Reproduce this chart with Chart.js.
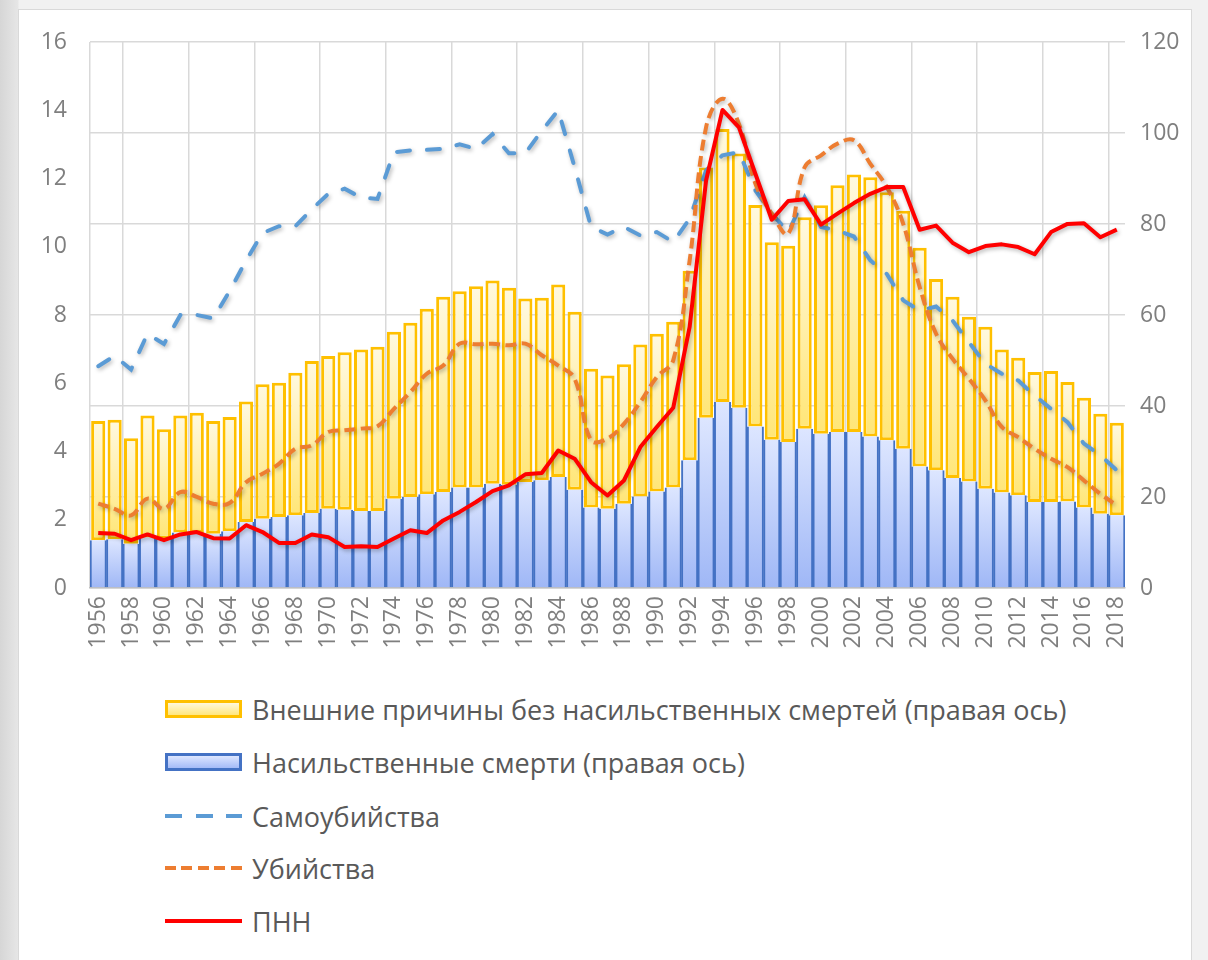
<!DOCTYPE html>
<html>
<head>
<meta charset="utf-8">
<script src="https://cdn.jsdelivr.net/npm/chart.js@4"></script>
<style>
  html, body { margin: 0; padding: 0; }
  body { width: 1208px; height: 960px; overflow: hidden; position: relative;
         background: linear-gradient(to right, #d6d6d6 0, #e6e6e6 18px, #f1f1f1 19px, #f1f1f1 100%); font-family: "Open Sans", sans-serif; }
  #panel { position: absolute; left: 18px; top: 9px; width: 1172px; height: 960px; background: #fff; border: 1px solid #d9d9d9; }
  #chart { position: absolute; left: 0; top: 0; }
  .leg { position: absolute; left: 165px; height: 30px; display: flex; align-items: center; }
  .leg .sw { width: 77px; height: 18px; box-sizing: border-box; }
  .leg span { margin-left: 10px; font-size: 27px; color: #595959; white-space: nowrap; }
</style>
</head>
<body>
<div id="panel"></div>
<canvas id="chart" width="1208" height="680"></canvas>

<div class="leg" style="top:694px"><div class="sw" style="border:3px solid #ffc000;background:linear-gradient(#fff8dc,#ffe77e)"></div><span>Внешние причины без насильственных смертей (правая ось)</span></div>
<div class="leg" style="top:747px"><div class="sw" style="border:3px solid #4472c4;background:linear-gradient(#dde6ff,#a4bbf7)"></div><span>Насильственные смерти (правая ось)</span></div>
<div class="leg" style="top:801px"><div class="sw" style="height:4px;background:repeating-linear-gradient(to right,#5b9bd5 0 17px,transparent 17px 30.5px)"></div><span>Самоубийства</span></div>
<div class="leg" style="top:853px"><div class="sw" style="height:4px;background:repeating-linear-gradient(to right,#ed7d31 0 11px,transparent 11px 16.5px)"></div><span>Убийства</span></div>
<div class="leg" style="top:906px"><div class="sw" style="height:4px;background:#ff0000"></div><span>ПНН</span></div>

<script>
// годы 1956-2018
const years = [];
for (let y = 1956; y <= 2018; y++) years.push(String(y));

// столбцы, правая ось
const violent = [10.5, 10.7, 9.7, 11.1, 10.8, 12.2, 12.1, 11.9, 12.5, 14.5,
  15.2, 15.6, 16.0, 16.5, 17.4, 17.2, 16.9, 16.9, 19.6, 20.0,
  20.6, 21.1, 22.1, 22.1, 22.9, 22.7, 23.3, 23.7, 24.4, 21.6,
  17.7, 17.4, 18.5, 20.1, 21.2, 22.1, 28.1, 37.4, 40.9, 39.6,
  35.5, 32.6, 32.1, 35.0, 33.9, 34.3, 34.3, 33.3, 32.5, 30.6,
  26.7, 25.9, 24.2, 23.4, 21.8, 21.0, 20.4, 18.9, 18.9, 19.0,
  17.7, 16.3, 16.0];
const external = [26.2, 26.3, 23.2, 26.8, 24.1, 25.7, 26.4, 24.8, 25.1, 26.5,
  29.6, 29.5, 31.3, 33.4, 33.6, 34.6, 35.5, 36.1, 36.7, 38.3,
  40.8, 42.9, 43.1, 44.2, 44.7, 43.3, 40.3, 40.1, 42.3, 39.1,
  30.5, 29.3, 30.7, 33.4, 34.7, 36.4, 41.6, 55.0, 60.0, 55.9,
  48.7, 43.4, 43.1, 46.5, 50.2, 54.2, 56.6, 57.0, 54.5, 52.3,
  48.1, 42.0, 39.8, 36.2, 35.6, 31.4, 30.2, 28.6, 28.8, 26.3,
  24.1, 22.0, 20.3];

// линии, левая ось
const suicides = [6.5, 6.8, 6.4, 7.45, 7.15, 8.0, 8.0, 7.9, 8.7, 9.6,
  10.4, 10.6, 10.6, 11.1, 11.55, 11.7, 11.44, 11.4, 12.77, 12.82,
  12.84, 12.87, 13.0, 12.87, 13.3, 12.74, 12.74, 13.4, 14.0, 12.33,
  10.58, 10.36, 10.58, 10.33, 10.43, 10.14, 10.82, 12.24, 12.68, 12.77,
  11.65, 10.97, 10.43, 11.45, 10.58, 10.48, 10.3, 9.6, 9.2, 8.43,
  8.13, 8.25, 7.84, 7.2, 6.57, 6.28, 6.08, 5.64, 5.25, 4.86,
  4.23, 3.89, 3.45];
const homicides = [2.47, 2.32, 2.13, 2.62, 2.32, 2.81, 2.67, 2.47, 2.49, 3.1,
  3.35, 3.64, 4.08, 4.18, 4.57, 4.62, 4.67, 4.74, 5.25, 5.74,
  6.28, 6.52, 7.16, 7.14, 7.16, 7.11, 7.16, 6.82, 6.52, 6.13,
  4.33, 4.38, 4.81, 5.45, 6.18, 6.67, 9.6, 13.5, 14.34, 13.6,
  11.85, 10.97, 10.38, 12.33, 12.68, 13.02, 13.12, 12.43, 11.75, 10.67,
  8.82, 7.45, 6.72, 6.13, 5.5, 4.72, 4.42, 4.08, 3.79, 3.54,
  3.15, 2.76, 2.42];
const pnn = [1.61, 1.59, 1.40, 1.57, 1.40, 1.57, 1.64, 1.46, 1.45, 1.84,
  1.64, 1.32, 1.32, 1.57, 1.49, 1.20, 1.22, 1.20, 1.45, 1.69,
  1.61, 1.98, 2.23, 2.52, 2.84, 3.01, 3.33, 3.37, 4.03, 3.79,
  3.1, 2.71, 3.15, 4.13, 4.72, 5.28, 7.65, 11.94, 14.01, 13.5,
  12.14, 10.79, 11.34, 11.39, 10.65, 10.97, 11.28, 11.55, 11.75, 11.75,
  10.5, 10.62, 10.12, 9.84, 10.02, 10.07, 9.99, 9.78, 10.43, 10.67,
  10.69, 10.28, 10.5];

const leftTicks = [0, 2, 4, 6, 8, 10, 12, 14, 16];
const rightTicks = [0, 20, 40, 60, 80, 100, 120];

const tickFont = { family: '"Open Sans", sans-serif', size: 23 };
const tickColor = '#7f7f7f';

// градиент на каждый столбец: светлее сверху
function barGrad(c, light, dark, lowOf, highOf) {
  const ch = c.chart;
  if (!ch.chartArea || c.dataIndex === undefined) return dark;
  const sc = ch.scales.yR;
  const i = c.dataIndex;
  const top = sc.getPixelForValue(highOf(i));
  const bot = sc.getPixelForValue(lowOf(i));
  if (!isFinite(top) || !isFinite(bot) || top === bot) return dark;
  const g = ch.ctx.createLinearGradient(0, top, 0, bot);
  g.addColorStop(0, light);
  g.addColorStop(1, dark);
  return g;
}

// тень у линий, как в Excel
const lineShadow = {
  id: 'lineShadow',
  beforeDatasetDraw(chart, args) {
    if (args.meta.type !== 'line') return;
    const ctx = chart.ctx;
    ctx.save();
    ctx.shadowColor = 'rgba(0,0,0,0.28)';
    ctx.shadowBlur = 4;
    ctx.shadowOffsetX = 1.5;
    ctx.shadowOffsetY = 2;
  },
  afterDatasetDraw(chart, args) {
    if (args.meta.type !== 'line') return;
    chart.ctx.restore();
  }
};

new Chart(document.getElementById('chart'), {
  type: 'bar',
  data: {
    labels: years,
    datasets: [
      {
        label: 'Насильственные смерти (правая ось)',
        data: violent,
        yAxisID: 'yR',
        order: 4,
        barPercentage: 1,
        categoryPercentage: 1,
        backgroundColor: c => barGrad(c, '#dde6ff', '#9fb7f6', () => 0, i => violent[i]),
        borderColor: '#4472c4',
        borderWidth: { left: 2, right: 2, top: 0, bottom: 0 },
        borderSkipped: false
      },
      {
        label: 'Внешние причины без насильственных смертей (правая ось)',
        data: external,
        yAxisID: 'yR',
        order: 4,
        barPercentage: 0.86,
        categoryPercentage: 1,
        backgroundColor: c => barGrad(c, '#fff9e0', '#ffe677', i => violent[i], i => violent[i] + external[i]),
        borderColor: '#ffc000',
        borderWidth: 3,
        borderSkipped: false
      },
      {
        type: 'line',
        label: 'Самоубийства',
        data: suicides,
        yAxisID: 'yL',
        order: 3,
        borderColor: '#5b9bd5',
        borderWidth: 4,
        borderDash: [13, 17],
        borderCapStyle: 'round',
        pointRadius: 0,
        tension: 0
      },
      {
        type: 'line',
        label: 'Убийства',
        data: homicides,
        yAxisID: 'yL',
        order: 2,
        borderColor: '#ed7d31',
        borderWidth: 4,
        borderDash: [11, 5.5],
        pointRadius: 0,
        tension: 0.4
      },
      {
        type: 'line',
        label: 'ПНН',
        data: pnn,
        yAxisID: 'yL',
        order: 1,
        borderColor: '#ff0000',
        borderWidth: 4,
        borderJoinStyle: 'round',
        pointRadius: 0,
        tension: 0
      }
    ]
  },
  options: {
    responsive: false,
    animation: false,
    layout: { padding: { top: 42, left: 0, right: 0, bottom: 0 } },
    plugins: { legend: { display: false }, tooltip: { enabled: false } },
    scales: {
      x: {
        stacked: true,
        offset: true,
        grid: {
          offset: true,
          drawTicks: false,
          lineWidth: 1.5,
          color: c => (c.index === 0 || c.index % 4 === 2) ? '#d9d9d9' : 'rgba(0,0,0,0)'
        },
        border: { color: '#bfbfbf', width: 1.5 },
        ticks: {
          autoSkip: false,
          minRotation: 90,
          maxRotation: 90,
          padding: 8,
          font: tickFont,
          color: tickColor,
          callback: (v, i) => i % 2 === 0 ? years[i] : ''
        },
        afterFit: s => { s.height = 92; }
      },
      yL: {
        position: 'left',
        min: 0,
        max: 16,
        afterBuildTicks: s => { s.ticks = leftTicks.map(v => ({ value: v })); },
        grid: { display: false, drawTicks: false },
        border: { display: false },
        ticks: { padding: 23, font: tickFont, color: tickColor },
        afterFit: s => { s.width = 90; }
      },
      yR: {
        position: 'right',
        stacked: true,
        min: 0,
        max: 120,
        afterBuildTicks: s => { s.ticks = rightTicks.map(v => ({ value: v })); },
        grid: { color: '#d9d9d9', lineWidth: 1.5, drawTicks: false },
        border: { display: false },
        ticks: { padding: 15, font: tickFont, color: tickColor },
        afterFit: s => { s.width = 83; }
      }
    }
  },
  plugins: [lineShadow]
});
</script>
</body>
</html>
